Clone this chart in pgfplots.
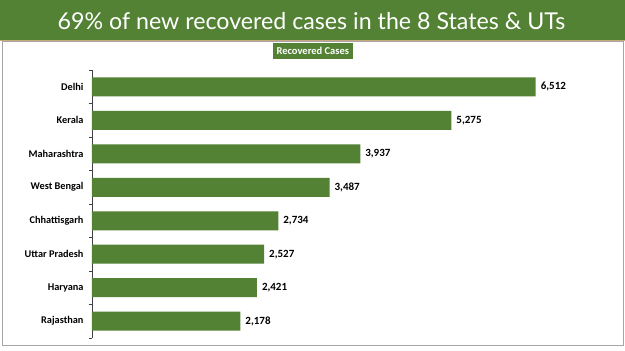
\documentclass[border=0pt]{standalone}
\usepackage{pgfplots}
\pgfplotsset{compat=1.18}
\usepackage{fontspec}
\setmainfont{Carlito}
\newfontfamily\titlefont{Lato}
\definecolor{bargreen}{HTML}{548235}
\definecolor{framegray}{HTML}{A6A6A6}
\definecolor{tanline}{HTML}{C8A97E}
\begin{document}
\begin{tikzpicture}[x=1pt,y=1pt]
\useasboundingbox (0,0) rectangle (625,351);
\fill[white] (0,0) rectangle (625,351);
\fill[bargreen] (0,311) rectangle (625,351);
\fill[tanline] (0,309.5) rectangle (625,311);
\draw[framegray, line width=1pt] (2.5,5) rectangle (623,309.5);
\node[text=white, font=\titlefont\fontsize{23.2}{28}\selectfont] at (311.5,330) {69\% of new recovered cases in the 8 States \& UTs};
\begin{axis}[
  at={(92pt,13pt)}, anchor=south west,
  scale only axis, width=477pt, height=268pt,
  xbar, bar width=19pt, bar shift=0pt,
  xmin=0, xmax=7000, ymin=-0.5, ymax=7.5,
  axis x line=none, axis y line*=left,
  axis line style={black!75, line width=0.6pt},
  ytick={0,...,7},
  yticklabels={Rajasthan,Haryana,Uttar Pradesh,Chhattisgarh,West Bengal,Maharashtra,Kerala,Delhi},
  major tick length=0pt,
  minor ytick={-0.5,0.5,...,7.5},
  minor tick length=3pt,
  tick align=outside,
  minor tick style={black!75, line width=0.6pt},
  yticklabel style={font=\bfseries\fontsize{10.3}{12}\selectfont, xshift=-5pt},
  nodes near coords,
  point meta=x,
  nodes near coords style={font=\bfseries\fontsize{11}{13}\selectfont, text=black, xshift=1.5pt},
  /pgf/number format/1000 sep={,},
  /pgf/number format/assume math mode=true,
  legend style={at={(0.463,1.07)}, anchor=center, fill=bargreen, draw=none,
    text=white, font=\bfseries\fontsize{10.5}{12}\selectfont, inner sep=1.5pt,
    cells={anchor=center}},
  legend image code/.code={},
  clip=false,
]
\addplot[fill=bargreen, draw=none] coordinates {
  (2178,0)
  (2421,1)
  (2527,2)
  (2734,3)
  (3487,4)
  (3937,5)
  (5275,6)
  (6512,7)
};
\addlegendentry{Recovered Cases}
\end{axis}
\end{tikzpicture}
\end{document}
